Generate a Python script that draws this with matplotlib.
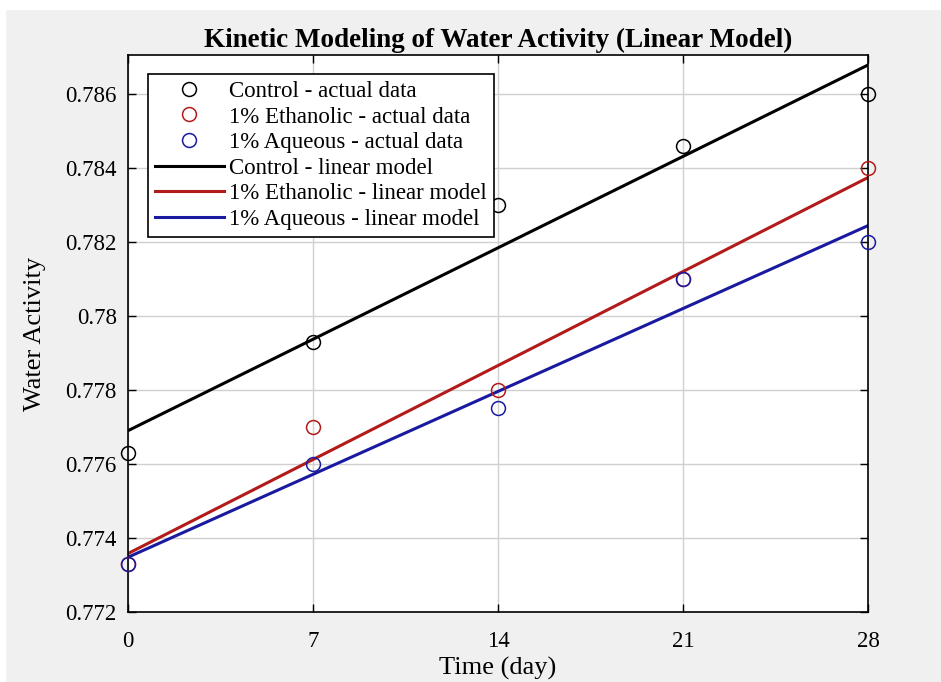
import numpy as np
import matplotlib
matplotlib.use("Agg")
import matplotlib.pyplot as plt
from matplotlib.ticker import FuncFormatter

# sampling days
days = [0, 7, 14, 21, 28]

# measured water activity
control = [0.7763, 0.7793, 0.7830, 0.7846, 0.7860]
ethanolic = [0.7733, 0.7770, 0.7780, 0.7810, 0.7840]
aqueous = [0.7733, 0.7760, 0.7775, 0.7810, 0.7820]

names = ["Control", "1% Ethanolic", "1% Aqueous"]
colors = ["#000000", "#b31a1a", "#1a1aa0"]

plt.rcParams["font.family"] = ["Liberation Serif", "DejaVu Serif"]

fig = plt.figure(figsize=(9.41, 6.82), dpi=100, facecolor="#f0f0f0")
# thin white strip along the top and left edge of the screenshot
fig.patches.append(plt.Rectangle((0, 0.987), 1, 0.013, transform=fig.transFigure,
                                 color="white", zorder=-1))
fig.patches.append(plt.Rectangle((0, 0), 0.005, 1, transform=fig.transFigure,
                                 color="white", zorder=-1))

ax = fig.add_axes([0.136, 0.1026, 0.7864, 0.8167])
ax.set_facecolor("white")

x = np.array(days)
series = [control, ethanolic, aqueous]

for name, y, c in zip(names, series, colors):
    ax.plot(x, y, "o", mfc="none", mec=c, ms=10, mew=1.1, ls="none",
            label=f"{name} - actual data", zorder=3, clip_on=False)

xx = np.linspace(0, 28, 50)
for name, y, c in zip(names, series, colors):
    k, b = np.polyfit(x, y, 1)
    ax.plot(xx, k * xx + b, color=c, lw=2.2, label=f"{name} - linear model", zorder=2)

ax.set_xlim(0, 28)
ax.set_ylim(0.772, 0.78705)
ax.set_xticks(days)
ax.set_yticks(np.arange(0.772, 0.7865, 0.002))
ax.yaxis.set_major_formatter(FuncFormatter(lambda v, p: f"{v:.3f}".rstrip("0")))
ax.tick_params(direction="in", top=True, right=True, labelsize=16.5, length=6,
               width=1)
ax.tick_params(axis="x", pad=14)
ax.tick_params(axis="y", pad=8)
ax.grid(True, color="#d0d0d0", lw=1)
for s in ax.spines.values():
    s.set_linewidth(1.2)

ax.set_title("Kinetic Modeling of Water Activity (Linear Model)",
             fontsize=19.5, fontweight="bold", pad=6)
ax.set_xlabel("Time (day)", fontsize=19, labelpad=3)
ax.set_ylabel("Water Activity", fontsize=19, labelpad=14)

leg = ax.legend(loc="upper left", bbox_to_anchor=(0.027, 0.966), fontsize=16.5,
                handlelength=3.0, handletextpad=0.25, borderpad=0.3,
                labelspacing=0.2, fancybox=False, framealpha=1,
                edgecolor="black", borderaxespad=0)
leg.get_frame().set_linewidth(1.2)

fig.savefig("out.png", dpi=100, facecolor=fig.get_facecolor())
